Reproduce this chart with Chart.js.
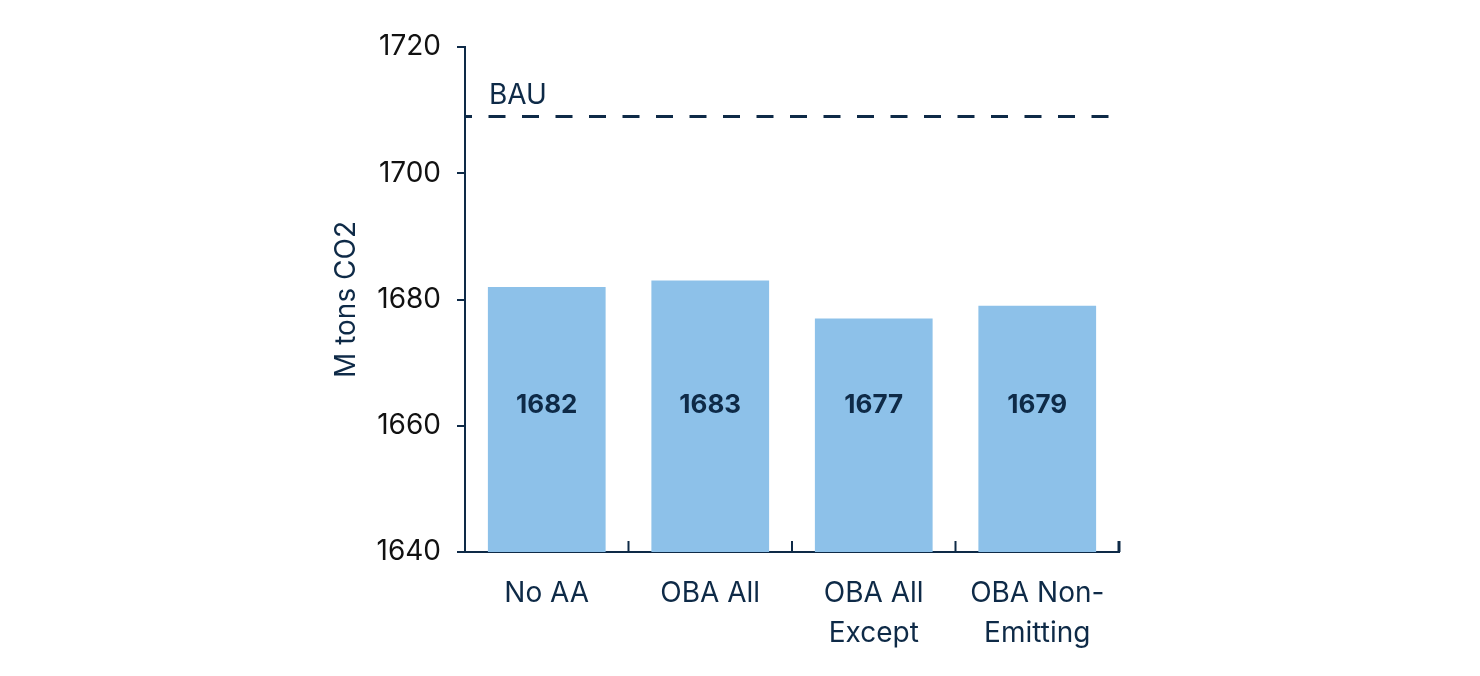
<!DOCTYPE html>
<html>
<head>
<meta charset="utf-8">
<script src="https://cdn.jsdelivr.net/npm/chart.js@4.4.1/dist/chart.umd.min.js"></script>
<style>
  html, body { margin: 0; padding: 0; background: #fff; }
  #wrap { width: 1480px; height: 676px; }
</style>
</head>
<body>
<div id="wrap"><canvas id="mycanvas"></canvas></div>
<script>
// data
var categories = [['No AA'], ['OBA All'], ['OBA All', 'Except'], ['OBA Non-', 'Emitting']];
var emissions = [1682, 1683, 1677, 1679];
var bauValue = 1709;
var bauLabel = 'BAU';
var yTicks = [1640, 1660, 1680, 1700, 1720];

var navy = '#0e2a47';
var barBlue = '#8dc1e9';
var labelLevel = 1663.3; // where the bold numbers sit

// BAU line, value labels and the little upward ticks on the x axis
var overlay = {
  id: 'overlay',
  afterDatasetsDraw: function(chart) {
    var ctx = chart.ctx, area = chart.chartArea;
    var x = chart.scales.x, y = chart.scales.y;
    ctx.save();

    // dashed BAU line
    var yb = y.getPixelForValue(bauValue);
    ctx.strokeStyle = navy;
    ctx.lineWidth = 3;
    ctx.setLineDash([17, 16.5]);
    ctx.lineDashOffset = 10;
    ctx.beginPath();
    ctx.moveTo(area.left, yb);
    ctx.lineTo(area.right - 10, yb);
    ctx.stroke();
    ctx.setLineDash([]);

    ctx.fillStyle = navy;
    ctx.font = '28px Inter';
    ctx.textAlign = 'left';
    ctx.textBaseline = 'alphabetic';
    ctx.fillText(bauLabel, area.left + 24, yb - 12);

    // numbers inside the bars
    var meta = chart.getDatasetMeta(0);
    ctx.font = 'bold 26px Inter';
    ctx.textAlign = 'center';
    ctx.textBaseline = 'middle';
    meta.data.forEach(function(bar, i) {
      ctx.fillText(String(emissions[i]), bar.x, y.getPixelForValue(labelLevel));
    });

    // category boundary ticks pointing up from the x axis
    var half = (x.getPixelForValue(1) - x.getPixelForValue(0)) / 2;
    ctx.strokeStyle = navy;
    for (var i = 0; i <= categories.length; i++) {
      var px = x.getPixelForValue(i) - half;
      ctx.lineWidth = (i === categories.length) ? 3 : 2;
      ctx.beginPath();
      ctx.moveTo(px, area.bottom);
      ctx.lineTo(px, area.bottom - 11);
      ctx.stroke();
    }
    ctx.restore();
  }
};

var ctx = document.getElementById('mycanvas').getContext('2d');

var barGraph = new Chart(ctx, {
  type: 'bar',
  data: {
    labels: categories,
    datasets: [{
      label: 'Emissions',
      data: emissions,
      backgroundColor: barBlue,
      borderWidth: 0,
      barPercentage: 0.72,
      categoryPercentage: 1.0
    }]
  },
  options: {
    responsive: true,
    maintainAspectRatio: false,
    animation: false,
    layout: { padding: { left: 330, right: 361, top: 47, bottom: 0 } },
    plugins: {
      legend: { display: false },
      tooltip: { enabled: false }
    },
    scales: {
      x: {
        offset: true,
        grid: { display: false, drawTicks: false },
        border: { display: true, color: navy, width: 2 },
        ticks: {
          color: navy,
          padding: 22,
          font: { family: 'Inter', size: 28, lineHeight: 1.43 },
          maxRotation: 0,
          autoSkip: false
        },
        afterFit: function(scale) { scale.height = 124; }
      },
      y: {
        min: 1640,
        max: 1720,
        afterBuildTicks: function(scale) {
          scale.ticks = yTicks.map(function(v) { return { value: v }; });
        },
        grid: { display: true, drawOnChartArea: false, drawTicks: true, tickLength: 8, color: navy, lineWidth: 2 },
        border: { display: true, color: navy, width: 2 },
        ticks: {
          color: '#111',
          padding: 16,
          font: { family: 'Inter', size: 28 },
          callback: function(v) { return String(v); }
        },
        title: {
          display: true,
          text: 'M tons CO2',
          color: navy,
          padding: { top: 0, bottom: 0 },
          font: { family: 'Inter', size: 28 }
        },
        afterFit: function(scale) { scale.width = 135; }
      }
    }
  },
  plugins: [overlay]
});
</script>
</body>
</html>
